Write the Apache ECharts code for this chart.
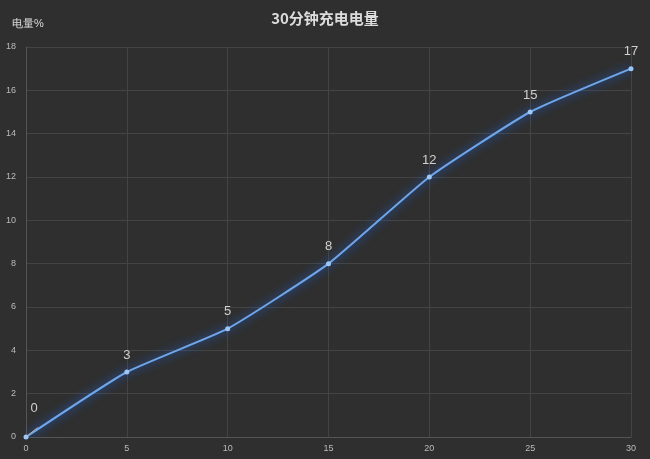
<!DOCTYPE html>
<html>
<head>
<meta charset="utf-8">
<script src="https://cdn.jsdelivr.net/npm/echarts@6/dist/echarts.min.js"></script>
<style>
html,body{margin:0;padding:0;background:#2f2f2f;}
#main{width:650px;height:459px;}
</style>
</head>
<body>
<div id="main"></div>
<script>
// 充电时间(分钟) 与 电量(%)
var minutes = [0, 5, 10, 15, 20, 25, 30];
var charge = [0, 3, 5, 8, 12, 15, 17];

var points = minutes.map(function (m, i) {
    var item = { value: [m, charge[i]] };
    // 起点标签偏到右上方,带引线
    if (i === 0) {
        item.label = { offset: [8, -12] };
        item.labelLine = { show: true };
    }
    return item;
});

var myChart = echarts.init(document.getElementById('main'));
var option = {
    backgroundColor: '#2f2f2f',
    title: {
        text: '30分钟充电电量',
        left: 'center',
        top: 6,
        textStyle: {
            color: '#dcdcdc',
            fontSize: 15,
            fontWeight: 'bold',
            fontFamily: 'Noto Sans CJK SC'
        }
    },
    grid: {
        left: 26,
        right: 19,
        top: 47,
        bottom: 22
    },
    xAxis: {
        type: 'value',
        min: 0,
        max: 30,
        interval: 5,
        axisLine: { show: true, lineStyle: { color: '#555' } },
        axisTick: { show: false },
        axisLabel: { color: '#bbb', fontSize: 9, margin: 7 },
        splitLine: { show: true, lineStyle: { color: '#444' } }
    },
    yAxis: {
        type: 'value',
        name: '电量%',
        nameLocation: 'end',
        nameGap: 18,
        nameTextStyle: { color: '#ddd', fontSize: 11, align: 'left', padding: [0, 0, 0, -14] },
        min: 0,
        max: 18,
        interval: 2,
        axisLine: { show: true, lineStyle: { color: '#555' } },
        axisTick: { show: false },
        axisLabel: { color: '#bbb', fontSize: 9, margin: 10 },
        splitLine: { show: true, lineStyle: { color: '#444' } }
    },
    series: [
        {
            type: 'line',
            data: points,
            smooth: 0.15,
            symbol: 'circle',
            symbolSize: 5,
            itemStyle: { color: '#9cc6f5' },
            lineStyle: {
                color: '#6fa6ea',
                width: 2,
                shadowColor: 'rgba(30,110,255,1)',
                shadowBlur: 10
            },
            labelLine: { lineStyle: { color: '#aaa', width: 1 } },
            label: {
                show: true,
                position: 'top',
                distance: 8,
                color: '#d0d0d0',
                fontSize: 13
            }
        }
    ]
};
myChart.setOption(option);
</script>
</body>
</html>
